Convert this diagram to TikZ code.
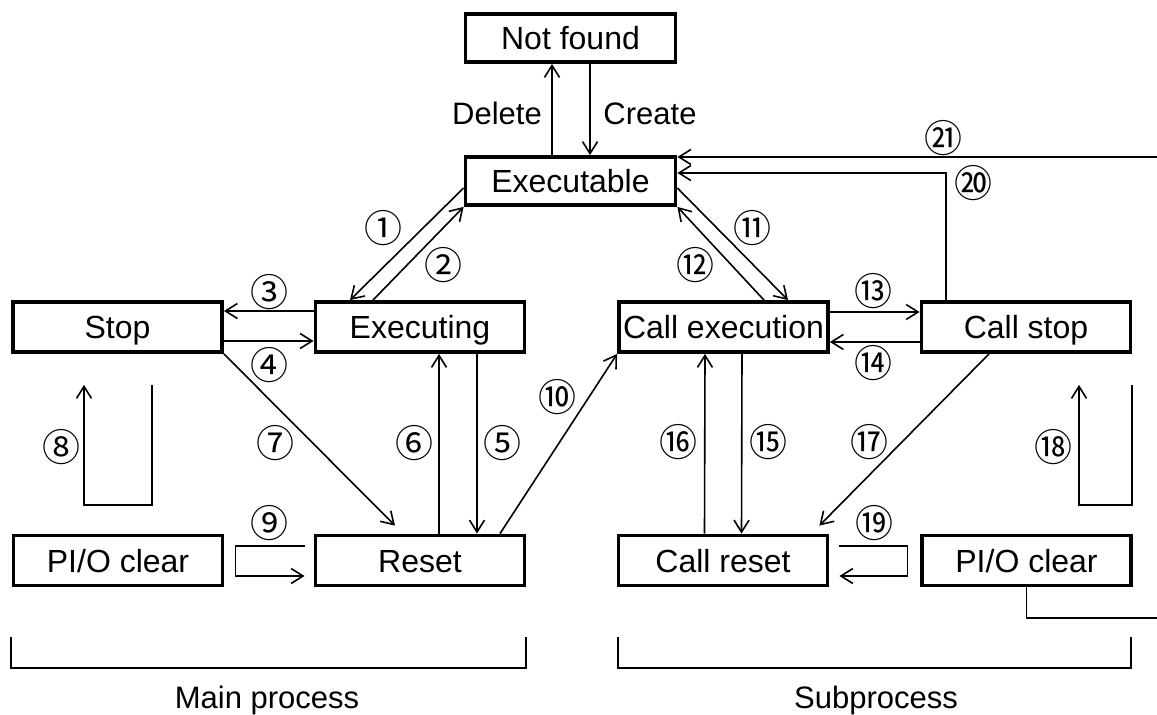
\documentclass[tikz,border=0pt]{standalone}
\usepackage{fontspec}
\setmainfont{Liberation Sans}
\newfontfamily\circfont{Noto Sans CJK JP}
\usetikzlibrary{arrows.meta}
\begin{document}
\begin{tikzpicture}[x=1pt,y=-1pt,
  state/.style={draw, line width=3.8pt, minimum width=209pt, minimum height=50pt,
    inner sep=0pt, font=\fontsize{32}{36}\selectfont, text height=23pt, text depth=0pt},
  topstate/.style={state, minimum width=210pt, minimum height=48pt},
  conn/.style={line width=1.6pt},
  arr/.style={conn, -{Straight Barb[length=12pt,width=15pt]}},
  num/.style={font=\circfont\fontsize{38}{40}\selectfont, inner sep=0pt},
  lbl/.style={font=\fontsize{31}{36}\selectfont, inner sep=0pt, text height=22pt, text depth=0pt}]
\useasboundingbox (0,0) rectangle (1157,715);

% states
\node[topstate] (notfound)   at (570.5,38)  {Not found};
\node[topstate] (executable) at (570.5,181) {Executable};
\node[state] (stop)      at (117.5,327) {Stop};
\node[state] (executing) at (420,327)   {Executing};
\node[state] (callexec)  at (723.5,327) {Call execution};
\node[state] (callstop)  at (1026,327)  {Call stop};
\node[state] (pioL)      at (118,560.5) {PI/O clear};
\node[state] (reset)     at (420,560.5) {Reset};
\node[state] (callreset) at (723,560.5) {Call reset};
\node[state] (pioR)      at (1026.5,560.5) {PI/O clear};

% free ends at the right margin
\coordinate (edgeA) at (1157,157);
\coordinate (edgeB) at (1157,618);

% create / delete
\draw[arr] ([xshift=-18.5pt]executable.north) -- ([xshift=-18.5pt]notfound.south);
\draw[arr] ([xshift=19.5pt]notfound.south) -- ([xshift=19.5pt]executable.north);
\node[lbl] (ldelete) at (497,113) {Delete};
\node[lbl] (lcreate) at (650,113) {Create};

% main process transitions
\draw[arr] ([yshift=-7pt]executable.west) -- ([xshift=-70pt]executing.north);
\draw[arr] ([xshift=-47pt]executing.north) -- (executable.south west);
\draw[arr] ([yshift=16pt]executing.west) -- ([yshift=16pt]stop.east);
\draw[arr] ([yshift=-14pt]stop.east) -- ([yshift=-14pt]executing.west);
\draw[arr] ([xshift=57pt]executing.south) -- ([xshift=57pt]reset.north);
\draw[arr] ([xshift=19pt]reset.north) -- ([xshift=19pt]executing.south);
\draw[arr] (stop.south east) -- ([xshift=-25pt,yshift=8pt]reset.north);
\draw[arr] ([xshift=34.5pt,yshift=-31pt]stop.south) -- ++(0,120) -- ++(-68,0) -- ++(0,-120);
\draw[arr] ([xshift=-9pt,yshift=14.5pt]reset.west) -- ++(-69,0) -- ++(0,30) -- ++(69,0);
\draw[arr] ([xshift=80pt]reset.north) -- (callexec.south west);

% subprocess transitions
\draw[arr] ([yshift=-7pt]executable.east) -- ([xshift=64.5pt]callexec.north);
\draw[arr] ([xshift=40.5pt]callexec.north) -- (executable.south east);
\draw[arr] ([yshift=15pt]callexec.east) -- ([yshift=15pt]callstop.west);
\draw[arr] ([yshift=-15pt]callstop.west) -- ([yshift=-15pt]callexec.east);
\draw[arr] ([xshift=18.5pt]callexec.south) -- ([xshift=18.5pt]callreset.north);
\draw[arr] ([xshift=-18.5pt]callreset.north) -- ([xshift=-18.5pt]callexec.south);
\draw[arr] ([xshift=-37pt]callstop.south) -- ([xshift=-10pt,yshift=8pt]callreset.north east);
\draw[arr] ([xshift=106pt,yshift=-31pt]callstop.south) -- ++(0,120) -- ++(-53,0) -- ++(0,-120);
\draw[arr] ([xshift=10pt,yshift=14.5pt]callreset.east) -- ++(68,0) -- ++(0,30) -- ++(-68,0);
\draw[arr] ([xshift=-80pt]callstop.north) |- ([yshift=8pt]executable.east);
\draw[arr] (edgeA) -- ([yshift=24pt]executable.east);
\draw[conn] (pioR.south) |- (edgeB);

% circled transition numbers
\node[num] (n1)  at (383,228) {①};
\node[num] (n2)  at (443,265) {②};
\node[num] (n3)  at (269,292) {③};
\node[num] (n4)  at (269,365) {④};
\node[num] (n5)  at (502,443) {⑤};
\node[num] (n6)  at (414,443) {⑥};
\node[num] (n7)  at (275,443) {⑦};
\node[num] (n8)  at (61,447)  {⑧};
\node[num] (n9)  at (269,523) {⑨};
\node[num] (n10) at (557,397) {⑩};
\node[num] (n11) at (752,228) {⑪};
\node[num] (n12) at (695,265) {⑫};
\node[num] (n13) at (873,291) {⑬};
\node[num] (n14) at (873,363) {⑭};
\node[num] (n15) at (768,442) {⑮};
\node[num] (n16) at (678,442) {⑯};
\node[num] (n17) at (869,442) {⑰};
\node[num] (n18) at (1053,447) {⑱};
\node[num] (n19) at (874,523) {⑲};
\node[num] (n20) at (973,183) {⑳};
\node[num] (n21) at (943,138) {㉑};

% group brackets
\draw[conn] (11,637) -- (11,668) -- (526,668) -- (526,637);
\draw[conn] (618,637) -- (618,668) -- (1131,668) -- (1131,637);
\node[lbl] (lmain) at (267,697) {Main process};
\node[lbl] (lsub)  at (876,697) {Subprocess};
\end{tikzpicture}
\end{document}
